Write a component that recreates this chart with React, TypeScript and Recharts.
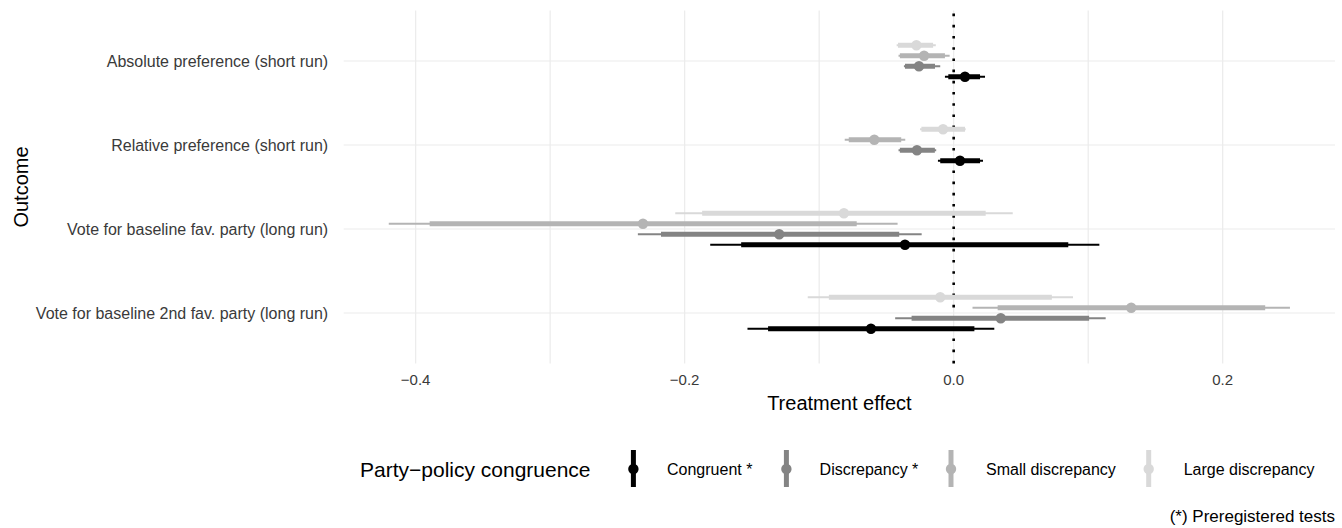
import React from "react";
import {
  ScatterChart,
  Scatter,
  XAxis,
  YAxis,
  CartesianGrid,
  ReferenceLine,
  ErrorBar,
} from "recharts";

const outcomes = [
  "Absolute preference (short run)",
  "Relative preference (short run)",
  "Vote for baseline fav. party (long run)",
  "Vote for baseline 2nd fav. party (long run)",
];
const outcomeY = [4, 3, 2, 1];

const groups = ["Congruent *", "Discrepancy *", "Small discrepancy", "Large discrepancy"];
const groupColors = ["#000000", "#848484", "#b4b4b4", "#d9d9d9"];

const xTicks = [-0.4, -0.3, -0.2, -0.1, 0, 0.1, 0.2];
const xLabelTicks = [-0.4, -0.2, 0, 0.2];

// point estimates per outcome (same order as outcomes)
const congruentEst = [0.0084, 0.0047, -0.0362, -0.0615];
const discrepancyEst = [-0.0258, -0.0273, -0.1297, 0.035];
const smallEst = [-0.022, -0.059, -0.231, 0.132];
const largeEst = [-0.0277, -0.0079, -0.0816, -0.01];

// inner interval (thick)
const congruentCi90 = [[-0.004, 0.0196], [-0.01, 0.0196], [-0.158, 0.0852], [-0.138, 0.0154]];
const discrepancyCi90 = [[-0.0362, -0.0139], [-0.04, -0.014], [-0.2176, -0.0405], [-0.0313, 0.1007]];
const smallCi90 = [[-0.04, -0.0065], [-0.078, -0.039], [-0.3896, -0.0721], [0.0327, 0.2316]];
const largeCi90 = [[-0.0414, -0.0153], [-0.024, 0.0084], [-0.187, 0.0238], [-0.0928, 0.073]];

// outer interval (thin)
const congruentCi95 = [[-0.0065, 0.0233], [-0.0117, 0.0218], [-0.181, 0.1083], [-0.1533, 0.0302]];
const discrepancyCi95 = [[-0.037, -0.01], [-0.041, -0.013], [-0.2348, -0.0238], [-0.0435, 0.113]];
const smallCi95 = [[-0.041, -0.003], [-0.081, -0.036], [-0.42, -0.0417], [0.014, 0.25]];
const largeCi95 = [[-0.0424, -0.0133], [-0.025, 0.0089], [-0.207, 0.0439], [-0.1085, 0.0887]];

const estimates = [congruentEst, discrepancyEst, smallEst, largeEst];
const ci90 = [congruentCi90, discrepancyCi90, smallCi90, largeCi90];
const ci95 = [congruentCi95, discrepancyCi95, smallCi95, largeCi95];

const dodgeWidth = 0.5;

const series = groups.map((name, gi) => {
  const offset = ((gi - 1.5) * dodgeWidth) / 4;
  const rows = outcomes.map((_, oi) => {
    const est = estimates[gi][oi];
    return {
      x: est,
      y: outcomeY[oi] + offset,
      thin: [est - ci95[gi][oi][0], ci95[gi][oi][1] - est],
      thick: [est - ci90[gi][oi][0], ci90[gi][oi][1] - est],
    };
  });
  return { name, color: groupColors[gi], rows };
});

const FONT = "'Liberation Sans', Arial, Helvetica, sans-serif";

const fmtTick = (v: number) => {
  if (v === 0) return "0.0";
  const s = Math.abs(v).toFixed(1);
  return v < 0 ? "\u2212" + s : s;
};

const XTick = (props: any) => {
  const { x, y, payload } = props;
  const v = Number(payload.value);
  if (!xLabelTicks.some((t) => Math.abs(t - v) < 1e-9)) return null;
  return (
    <text x={x} y={y + 21.5} textAnchor="middle" fontSize={15} fill="#3a3a3a" fontFamily={FONT}>
      {fmtTick(v)}
    </text>
  );
};

const YTick = (props: any) => {
  const { x, y, payload } = props;
  const idx = outcomeY.indexOf(Number(payload.value));
  return (
    <text x={x - 15.5} y={y + 5.8} textAnchor="end" fontSize={16} fill="#3a3a3a" fontFamily={FONT}>
      {outcomes[idx]}
    </text>
  );
};

const legendKeyX = [633.4, 786.4, 951, 1148.7];
const legendLabelX = [667, 819.6, 986, 1183.7];

export default function App() {
  return (
    <div style={{ position: "absolute", left: 0, top: 0, width: 1342, height: 528, background: "#fff" }}>
      <ScatterChart
        width={1342}
        height={528}
        margin={{ top: 10.6, right: 7, bottom: 134.6, left: 0 }}
      >
        <CartesianGrid stroke="#ebebeb" strokeWidth={1.2} syncWithTicks />
        <XAxis
          type="number"
          dataKey="x"
          domain={[-0.4535, 0.2835]}
          allowDataOverflow
          ticks={xTicks}
          interval={0}
          axisLine={false}
          tickLine={false}
          tickSize={0}
          tickMargin={0}
          height={30}
          tick={<XTick />}
        />
        <YAxis
          type="number"
          dataKey="y"
          domain={[0.4, 4.6]}
          allowDataOverflow
          ticks={outcomeY}
          interval={0}
          axisLine={false}
          tickLine={false}
          tickSize={0}
          tickMargin={0}
          width={343.7}
          tick={<YTick />}
        />
        <ReferenceLine x={0} stroke="#000" strokeWidth={2.6} strokeDasharray="2.6 8.6" />
        {series.map((s) => (
          <Scatter
            key={s.name}
            name={s.name}
            data={s.rows}
            fill={s.color}
            isAnimationActive={false}
            shape={(p: any) => <circle cx={p.cx} cy={p.cy} r={5.2} fill={s.color} />}
          >
            <ErrorBar
              dataKey="thin"
              direction="x"
              width={0}
              stroke={s.color}
              strokeWidth={2}
              isAnimationActive={false}
            />
            <ErrorBar
              dataKey="thick"
              direction="x"
              width={0}
              stroke={s.color}
              strokeWidth={5}
              isAnimationActive={false}
            />
          </Scatter>
        ))}
      </ScatterChart>
      <svg
        width={1342}
        height={528}
        style={{ position: "absolute", left: 0, top: 0, pointerEvents: "none" }}
        fontFamily={FONT}
      >
        <text
          x={0}
          y={0}
          transform="translate(27.5,187) rotate(-90)"
          textAnchor="middle"
          fontSize={20}
          fill="#000"
        >
          Outcome
        </text>
        <text x={839.4} y={410} textAnchor="middle" fontSize={20} fill="#000">
          Treatment effect
        </text>
        <text x={360} y={477} fontSize={21} fill="#000">
          Party{"\u2212"}policy congruence
        </text>
        {series.map((s, i) => (
          <g key={s.name}>
            <line x1={legendKeyX[i]} x2={legendKeyX[i]} y1={450} y2={487} stroke={s.color} strokeWidth={5} />
            <circle cx={legendKeyX[i]} cy={469} r={5.2} fill={s.color} />
            <text x={legendLabelX[i]} y={475} fontSize={16} fill="#000">
              {s.name}
            </text>
          </g>
        ))}
        <text x={1335} y={522} textAnchor="end" fontSize={17} fill="#000">
          (*) Preregistered tests
        </text>
      </svg>
    </div>
  );
}
